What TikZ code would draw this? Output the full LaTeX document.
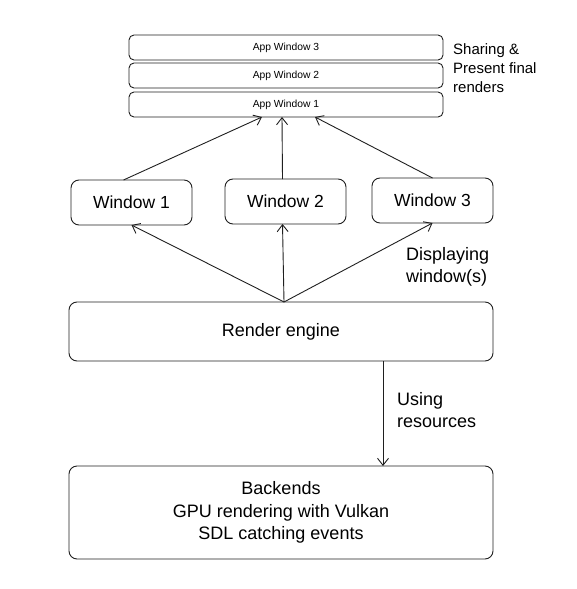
\documentclass[tikz,border=0pt]{standalone}
\usepackage{fontspec}
\setmainfont{Liberation Sans}
\usetikzlibrary{arrows.meta}

\tikzset{
	sketch/.style = {draw=black!88, line width=0.9pt, rounded corners=8pt, inner sep=0pt, outer sep=0pt, align=center, font=\fontsize{18}{22.5}\selectfont},
	appwin/.style = {sketch, rounded corners=5pt, minimum width=314pt, minimum height=25pt, font=\fontsize{10.3}{12}\selectfont},
	winbox/.style = {sketch, minimum width=121pt, minimum height=45pt, font=\fontsize{17.5}{21}\selectfont},
	bigbox/.style = {sketch, minimum width=424pt},
	note/.style = {align=left, inner sep=0pt, font=\fontsize{18}{22}\selectfont},
	link/.style = {draw=black!88, line width=0.9pt, -{Straight Barb[length=7pt, width=11pt]}}
}

\begin{document}
\begin{tikzpicture}[x=1pt, y=-1pt]
			\useasboundingbox (0,0) rectangle (577,589);

			\node[appwin] (aw3) at (286,47.5) {App Window 3};
			\node[appwin] (aw2) at (286,75.5) {App Window 2};
			\node[appwin] (aw1) at (286,104.5) {App Window 1};
			\node[note, anchor=north west, font=\fontsize{15}{19}\selectfont] (share) at (453,43) {Sharing \&\\Present final\\renders};

			\node[winbox] (w1) at (131.5,202.5) {Window 1};
			\node[winbox] (w2) at (285.5,201.5) {Window 2};
			\node[winbox] (w3) at (432.5,200.5) {Window 3};

			\node[bigbox, minimum height=59pt] (render) at (281,331.5) {Render engine};
			\node[note, anchor=west] (display) at (406,267) {Displaying\\window(s)};

			\node[bigbox, minimum height=93pt] (backend) at (281,512.5) {Backends\\GPU rendering with Vulkan\\SDL catching events};
			\node[note, anchor=west] (using) at (397,410) {Using\\resources};

			\draw[link] ([xshift=-8]w1.north) -- ([xshift=-24]aw1.south);
			\draw[link] ([xshift=-3]w2.north) -- ([xshift=-4]aw1.south);
			\draw[link] (w3.north) -- ([xshift=29]aw1.south);

			\draw[link] ([xshift=3]render.north) -- (w1.south);
			\draw[link] ([xshift=3]render.north) -- ([xshift=-3]w2.south);
			\draw[link] ([xshift=3]render.north) -- (w3.south);

			\draw[link] ([xshift=102]render.south) -- ([xshift=102]backend.north);
		\end{tikzpicture}
\end{document}
